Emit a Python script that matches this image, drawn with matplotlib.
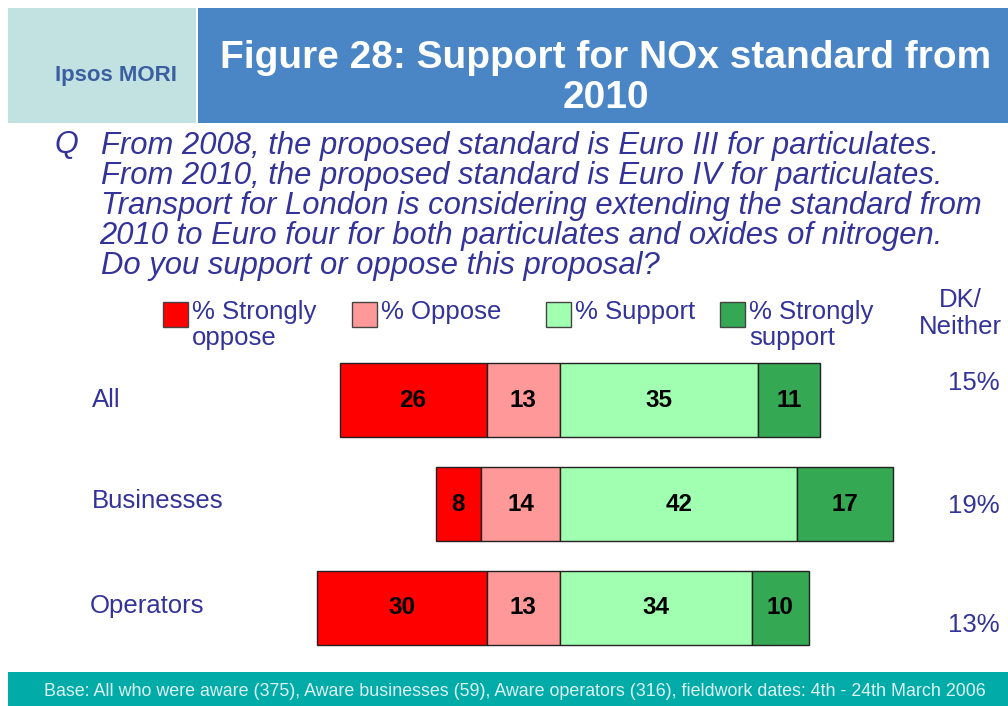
"""Figure 28: support for NOx standard from 2010 (Ipsos MORI slide)."""
import matplotlib
matplotlib.use("Agg")
import matplotlib.pyplot as plt
from matplotlib.patches import Rectangle

# data
groups = ["All", "Businesses", "Operators"]
strongly_oppose = [26, 8, 30]
oppose = [13, 14, 13]
support = [35, 42, 34]
strongly_support = [11, 17, 10]
dk_neither = [15, 19, 13]

legend_labels = ["% Strongly\noppose", "% Oppose", "% Support", "% Strongly\nsupport"]
C = {"so": "#FF0000", "o": "#FF9999", "s": "#A0FFB0", "ss": "#34A853"}
TXT = "#333399"

plt.rcParams["font.family"] = ["Liberation Sans", "DejaVu Sans"]

W, H = 1008, 706
fig = plt.figure(figsize=(W / 100, H / 100), dpi=100)


def px(x, y):
    # pixel coords (top-left origin) -> figure fraction
    return x / W, 1 - y / H


# ---- header -----------------------------------------------------------------
fig.add_artist(Rectangle(px(8, 123), 188 / W, 115 / H, transform=fig.transFigure,
                         color="#C2E2E2", lw=0))
fig.add_artist(Rectangle(px(198, 123), 810 / W, 115 / H, transform=fig.transFigure,
                         color="#4A86C6", lw=0))
fig.text(*px(116, 75), "Ipsos MORI", color="#3A5FA0", fontsize=16,
         fontweight="bold", ha="center", va="center")
fig.text(*px(606, 78), "Figure 28: Support for NOx standard from\n2010",
         color="white", fontsize=28, fontweight="bold", ha="center",
         va="center", linespacing=1.15)

# ---- question ---------------------------------------------------------------
fig.text(*px(55, 145), "Q", color=TXT, fontsize=22, style="italic", va="center")
q_lines = ["From 2008, the proposed standard is Euro III for particulates.",
           "From 2010, the proposed standard is Euro IV for particulates.",
           "Transport for London is considering extending the standard from",
           "2010 to Euro four for both particulates and oxides of nitrogen.",
           "Do you support or oppose this proposal?"]
q_x = [101, 101, 101, 99, 101]
for i, (line, x) in enumerate(zip(q_lines, q_x)):
    fig.text(*px(x, 146 + 30 * i), line, color=TXT, fontsize=22.3,
             style="italic", va="center")

# ---- legend -----------------------------------------------------------------
leg_x = [163, 352, 546, 720]
for x, lab, key in zip(leg_x, legend_labels, ["so", "o", "s", "ss"]):
    fig.add_artist(Rectangle(px(x, 327), 25 / W, 25 / H, transform=fig.transFigure,
                             facecolor=C[key], edgecolor="#444", lw=1))
    fig.text(*px(x + 29, 300), lab, color=TXT, fontsize=18.5, va="top",
             ha="left", linespacing=1.08)
fig.text(*px(960, 288), "DK/\nNeither", color=TXT, fontsize=18.5, va="top",
         ha="center", linespacing=1.15)

# ---- bars -------------------------------------------------------------------
ax = fig.add_axes([0, 1 - 660 / H, 1, 312 / H])
scale = 5.65  # px per percentage point
ax.set_xlim(-560 / scale, (W - 560) / scale)
ax.set_ylim(2.5, -0.5)
ax.axis("off")

y = list(range(len(groups)))
hgt = 0.71
left_so = [-(a + b) for a, b in zip(strongly_oppose, oppose)]
left_o = [-b for b in oppose]
left_ss = list(support)
segs = [(strongly_oppose, left_so, "so"), (oppose, left_o, "o"),
        (support, [0] * 3, "s"), (strongly_support, left_ss, "ss")]
for vals, lefts, key in segs:
    bars = ax.barh(y, vals, left=lefts, height=hgt, color=C[key],
                   edgecolor="#222", lw=1)
    for b, v in zip(bars, vals):
        ax.text(b.get_x() + b.get_width() / 2, b.get_y() + b.get_height() / 2,
                str(v), ha="center", va="center", fontsize=17.5,
                fontweight="bold", color="black")

# category labels
lab_pos = [(92, 400), (92, 501), (90, 606)]
for g, (x, yy) in zip(groups, lab_pos):
    fig.text(*px(x, yy), g, color=TXT, fontsize=18.5, va="center", ha="left")

# DK / neither values
dk_y = [383, 506, 625]
for v, yy in zip(dk_neither, dk_y):
    fig.text(*px(974, yy), f"{v}%", color=TXT, fontsize=18.5, va="center",
             ha="center")

# ---- footer -----------------------------------------------------------------
fig.add_artist(Rectangle(px(8, 706), 1000 / W, 34 / H, transform=fig.transFigure,
                         color="#00ABA8", lw=0))
fig.text(*px(515, 691),
         "Base: All who were aware (375), Aware businesses (59), Aware operators "
         "(316), fieldwork dates: 4th - 24th March 2006",
         color="#DDF2F2", fontsize=12.9, ha="center", va="center")

fig.savefig("out.png", dpi=100)
